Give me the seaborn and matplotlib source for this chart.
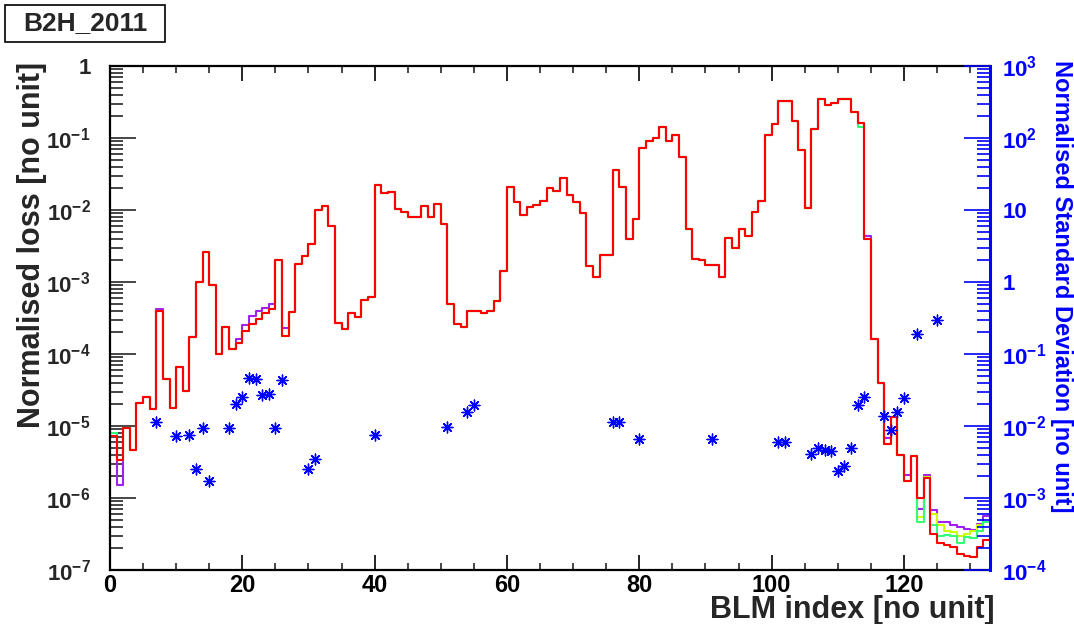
import numpy as np
import matplotlib
matplotlib.use("Agg")
import matplotlib.pyplot as plt
import seaborn as sns
from matplotlib.patches import Rectangle
from matplotlib.ticker import LogLocator, NullFormatter, FixedLocator, MultipleLocator

# ---------------- data ----------------
title = "B2H_2011"
x_label = "BLM index [no unit]"
y_label = "Normalised loss [no unit]"
y2_label = "Normalised Standard Deviation [no unit]"

# normalised loss per BLM index (red series, bins 0..132)
loss_red = [
    7.3e-6, 3.4e-6, 9.5e-6, 4.7e-6, 2.1e-5, 2.5e-5, 1.74e-5, 4.0e-4, 4.5e-5, 1.8e-5,
    6.5e-5, 3.1e-5, 1.7e-4, 1.0e-3, 2.6e-3, 9.0e-4, 1.0e-4, 2.4e-4, 1.18e-4, 1.4e-4,
    2.1e-4, 2.6e-4, 3.1e-4, 3.7e-4, 4.2e-4, 2.0e-3, 1.77e-4, 3.8e-4, 1.8e-3, 2.3e-3,
    3.4e-3, 1.0e-2, 1.12e-2, 5.9e-3, 2.7e-4, 2.2e-4, 3.7e-4, 3.3e-4, 5.7e-4, 6.2e-4,
    2.2e-2, 1.7e-2, 1.77e-2, 1.03e-2, 9.5e-3, 8.1e-3, 8.1e-3, 1.15e-2, 7.9e-3, 1.2e-2,
    6.3e-3, 5.0e-4, 2.6e-4, 2.4e-4, 3.9e-4, 4.0e-4, 3.7e-4, 4.0e-4, 5.5e-4, 1.4e-3,
    2.07e-2, 1.28e-2, 8.5e-3, 1.1e-2, 1.18e-2, 1.35e-2, 2.0e-2, 1.86e-2, 2.8e-2, 1.6e-2,
    1.3e-2, 9.1e-3, 1.67e-3, 1.17e-3, 2.4e-3, 2.4e-3, 3.6e-2, 2.1e-2, 4.0e-3, 7.4e-3,
    7.2e-2, 9.1e-2, 0.10, 0.142, 9.1e-2, 0.11, 5.5e-2, 5.5e-3, 2.1e-3, 2.0e-3,
    1.7e-3, 1.7e-3, 1.17e-3, 4.1e-3, 3.0e-3, 5.5e-3, 4.4e-3, 9.5e-3, 1.35e-2, 0.11,
    0.155, 0.33, 0.33, 0.17, 6.9e-2, 1.07e-2, 0.135, 0.35, 0.29, 0.31,
    0.35, 0.35, 0.23, 0.16, 3.9e-3, 1.6e-4, 3.9e-5, 5.7e-6, 1.35e-5, 4.0e-6,
    1.7e-6, 3.8e-6, 1.0e-6, 1.9e-6, 3.2e-7, 2.4e-7, 2.2e-7, 2.1e-7, 1.67e-7, 1.58e-7,
    1.5e-7, 2.1e-7, 2.6e-7,
]

# bins where the other series differ visibly from the red one
loss_purple_diff = {
    1: 1.5e-6, 7: 4.2e-4, 19: 1.6e-4, 20: 2.5e-4, 21: 3.4e-4, 22: 4.0e-4, 23: 4.4e-4,
    24: 5.0e-4, 26: 2.3e-4, 114: 4.4e-3, 117: 6.8e-6, 120: 2.1e-6, 122: 7.0e-7,
    123: 2.1e-6, 124: 6.8e-7, 125: 4.7e-7, 126: 4.6e-7, 127: 4.2e-7, 128: 4.0e-7,
    129: 3.7e-7, 130: 3.6e-7, 131: 4.4e-7, 132: 5.6e-7,
}
loss_yellow_diff = {
    122: 5.4e-7, 123: 1.95e-6, 124: 5.9e-7, 125: 4.2e-7, 126: 3.5e-7, 127: 3.4e-7,
    128: 3.0e-7, 129: 3.2e-7, 130: 3.5e-7, 131: 4.2e-7, 132: 4.7e-7,
}
loss_green_diff = {
    0: 8.0e-6, 113: 0.14, 122: 4.7e-7, 123: 1.9e-6, 124: 4.2e-7, 125: 3.0e-7,
    126: 3.1e-7, 127: 3.0e-7, 128: 2.35e-7, 129: 2.9e-7, 130: 2.8e-7, 131: 3.5e-7,
    132: 4.6e-7,
}

# normalised standard deviation (right axis)
std_index = [7, 10, 12, 13, 14, 15, 18, 19, 20, 21, 22, 23, 24, 25, 26, 30, 31, 40,
             51, 54, 55, 76, 77, 80, 91, 101, 102, 106, 107, 108, 109, 110, 111, 112,
             113, 114, 117, 118, 119, 120, 122, 125]
std_value = [0.0115, 0.0072, 0.0074, 0.0025, 0.0093, 0.0017, 0.0093, 0.020, 0.025,
             0.046, 0.045, 0.027, 0.028, 0.0093, 0.043, 0.0025, 0.0035, 0.0074,
             0.0098, 0.0155, 0.0195, 0.0115, 0.0115, 0.0066, 0.0065, 0.0059, 0.0060,
             0.0041, 0.0049, 0.0046, 0.0045, 0.0024, 0.0028, 0.0049, 0.0195, 0.025,
             0.0138, 0.0089, 0.0155, 0.0245, 0.19, 0.30]

x_ticks = [0, 20, 40, 60, 80, 100, 120]
y_ticks = [1e-7, 1e-6, 1e-5, 1e-4, 1e-3, 1e-2, 1e-1, 1]
y_tick_labels = [r"$\mathbf{10^{-7}}$", r"$\mathbf{10^{-6}}$", r"$\mathbf{10^{-5}}$",
                 r"$\mathbf{10^{-4}}$", r"$\mathbf{10^{-3}}$", r"$\mathbf{10^{-2}}$",
                 r"$\mathbf{10^{-1}}$", "1"]
y2_ticks = [1e-4, 1e-3, 1e-2, 1e-1, 1, 10, 100, 1000]
y2_tick_labels = [r"$\mathbf{10^{-4}}$", r"$\mathbf{10^{-3}}$", r"$\mathbf{10^{-2}}$",
                  r"$\mathbf{10^{-1}}$", "1", "10", r"$\mathbf{10^{2}}$", r"$\mathbf{10^{3}}$"]

# ---------------- style ----------------
sns.set_theme(style="white")
plt.rcParams["font.family"] = ["Liberation Sans", "DejaVu Sans"]
plt.rcParams["mathtext.fontset"] = "custom"
plt.rcParams["mathtext.rm"] = "Liberation Sans"
plt.rcParams["mathtext.bf"] = "Liberation Sans:bold"
plt.rcParams["mathtext.it"] = "Liberation Sans:italic"

series_colors = {"purple": "#a020f0", "yellow": "#ccff00", "green": "#33ff77", "red": "#ff0000"}
blue = "#0000ff"

fig = plt.figure(figsize=(10.74, 6.24), dpi=100)
ax = fig.add_axes([110 / 1074, 1 - 570 / 624, 880 / 1074, 504 / 624])


def build(diff):
    vals = list(loss_red)
    for k, v in diff.items():
        vals[k] = v
    return vals


n = len(loss_red)
edges = np.arange(n + 1)
for name, diff in [("purple", loss_purple_diff), ("yellow", loss_yellow_diff),
                   ("green", loss_green_diff), ("red", {})]:
    vals = build(diff)
    ys = vals + [vals[-1]]
    sns.lineplot(x=edges, y=ys, drawstyle="steps-post", color=series_colors[name],
                 lw=1.5, ax=ax, estimator=None, sort=False)

ax.set_yscale("log")
ax.set_xlim(0, n)
ax.set_ylim(1e-7, 1)

ax2 = ax.twinx()
ax2.set_yscale("log")
ax2.set_ylim(1e-4, 1e3)
sns.scatterplot(x=std_index, y=std_value, ax=ax2, marker=(8, 2, 0), s=60,
                color=blue, linewidth=1.0, edgecolor=blue, zorder=5)

# ---------------- axes cosmetics ----------------
tick_font = 16
ax.set_xticks(x_ticks)
ax.set_xticklabels([str(t) for t in x_ticks], fontsize=tick_font + 1, fontweight="bold")
ax.xaxis.set_minor_locator(MultipleLocator(5))
ax.tick_params(axis="x", which="major", direction="in", length=11, width=1.2,
               top=True, bottom=True, pad=3, colors="black")
ax.tick_params(axis="x", which="minor", direction="in", length=5, width=1.2,
               top=True, bottom=True)

ax.yaxis.set_major_locator(FixedLocator(y_ticks))
ax.set_yticklabels(y_tick_labels, fontsize=tick_font, fontweight="bold")
ax.yaxis.set_minor_locator(LogLocator(base=10, subs=np.arange(2, 10), numticks=100))
ax.yaxis.set_minor_formatter(NullFormatter())
ax.tick_params(axis="y", which="major", direction="in", length=19, width=1.2,
               left=True, right=False, pad=14)
ax.tick_params(axis="y", which="minor", direction="in", length=9.5, width=1.2,
               left=True, right=False)

ax2.yaxis.set_major_locator(FixedLocator(y2_ticks))
ax2.set_yticklabels(y2_tick_labels, fontsize=tick_font, fontweight="bold", color=blue)
ax2.yaxis.set_minor_locator(LogLocator(base=10, subs=np.arange(2, 10), numticks=100))
ax2.yaxis.set_minor_formatter(NullFormatter())
ax2.tick_params(axis="y", which="major", direction="in", length=19, width=1.2,
                colors=blue, pad=9)
ax2.tick_params(axis="y", which="minor", direction="in", length=9.5, width=1.2,
                colors=blue)

for s in ["left", "top", "bottom"]:
    ax.spines[s].set_color("black")
    ax.spines[s].set_linewidth(1.6)
    ax2.spines[s].set_visible(False)
ax.spines["right"].set_visible(False)
ax2.spines["right"].set_color(blue)
ax2.spines["right"].set_linewidth(2.2)

ax.set_xlabel(x_label, fontsize=22, fontweight="bold")
ax.xaxis.set_label_coords((995 - 110) / 880, -(595 - 570) / 504)
ax.xaxis.label.set_ha("right")
ax.xaxis.label.set_va("top")

# y label: rotated 90 with anchor rotation, end of text at the top of the axes
ax.set_ylabel(y_label, fontsize=22, fontweight="bold")
ax.yaxis.label.set_rotation_mode("anchor")
ax.yaxis.label.set_ha("right")
ax.yaxis.label.set_va("center")
ax.yaxis.set_label_coords((32 - 110) / 880, (570 - 62) / 504)

ax2.set_ylabel(y2_label, fontsize=17, fontweight="bold", color=blue, rotation=270)
ax2.yaxis.label.set_rotation_mode("anchor")
ax2.yaxis.label.set_ha("left")
ax2.yaxis.label.set_va("center")
ax2.yaxis.set_label_coords((1062 - 110) / 880, (570 - 60) / 504)

# title box
fig.patches.append(Rectangle((5 / 1074, 1 - 42 / 624), 160 / 1074, 37 / 624,
                             transform=fig.transFigure, fc="white", ec="black",
                             lw=1.2, zorder=1))
fig.text(85 / 1074, 1 - 23.5 / 624, title, fontsize=19, fontweight="bold",
         ha="center", va="center", zorder=2)

fig.savefig("out.png", dpi=100, facecolor="white")
